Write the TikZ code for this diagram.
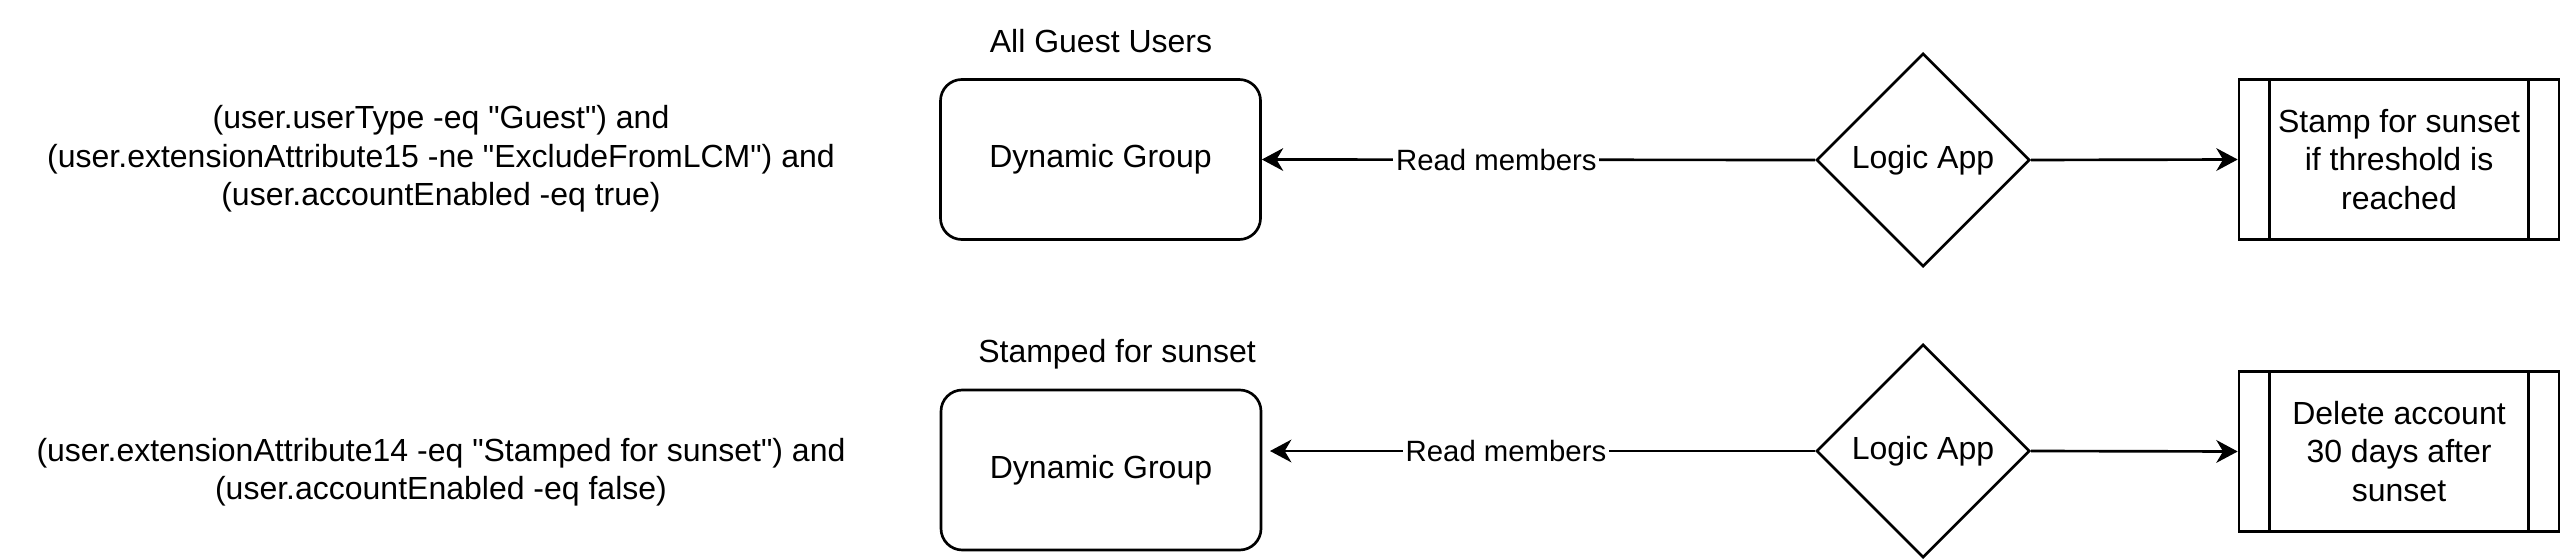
\documentclass[tikz,border=0pt]{standalone}
\usepackage{fontspec}
\setmainfont{Liberation Sans}[Ligatures=TeXOff]
\usetikzlibrary{arrows.meta,shapes.geometric}
\begin{document}
\begin{tikzpicture}[x=0.375pt,y=-0.375pt,
 every node/.style={font=\fontsize{12pt}{14.4pt}\selectfont, inner sep=0pt},
 grp/.style={draw, rounded corners=8pt, minimum width=120pt, minimum height=60pt, line width=1pt},
 logic/.style={draw, diamond, minimum width=80pt, minimum height=80pt, aspect=1, line width=1pt},
 proc/.style={draw, rectangle, minimum width=120pt, minimum height=60pt, line width=1pt, align=center},
 cond/.style={align=center},
 bar/.style={line width=1pt},
 conn/.style={line width=1pt, -{Stealth[length=8pt,width=8.5pt,inset=2.5pt]}},
 lbl/.style={fill=white, font=\fontsize{11pt}{13.2pt}\selectfont, inner sep=1pt}
]
\useasboundingbox (0,0) rectangle (2560,559);

% top row
\node[cond] (c1) at (441,159) {(user.userType -eq "Guest") and\\(user.extensionAttribute15 -ne "ExcludeFromLCM") and\\(user.accountEnabled -eq true)};
\node (t1) at (1101,41) {All Guest Users};
\node[grp] (dg1) at (1100.5,159.5) {Dynamic Group};
\node[logic] (la1) at (1923,160) {Logic App};
\node[proc] (sp1) at (2399,159.5) {Stamp for sunset\\if threshold is\\reached};
\draw[bar] ([xshift=12pt]sp1.north west) -- ([xshift=12pt]sp1.south west);
\draw[bar] ([xshift=-12pt]sp1.north east) -- ([xshift=-12pt]sp1.south east);
\draw[conn] (la1.west) -- node[lbl,pos=0.576]{Read members} (dg1.east);
\draw[conn] (la1.east) -- (sp1.west);

% bottom row
\node[cond] (c2) at (441,472) {(user.extensionAttribute14 -eq "Stamped for sunset") and\\(user.accountEnabled -eq false)};
\node (t2) at (1117,354) {Stamped for sunset};
\node[grp] (dg2) at (1101,470) {Dynamic Group};
\node[logic] (la2) at (1923,451) {Logic App};
\node[proc] (sp2) at (2399,451.5) {Delete account\\30 days after\\sunset};
\draw[bar] ([xshift=12pt]sp2.north west) -- ([xshift=12pt]sp2.south west);
\draw[bar] ([xshift=-12pt]sp2.north east) -- ([xshift=-12pt]sp2.south east);
\coordinate (e2) at (1270,451);
\draw[conn] (la2.west) -- node[lbl,pos=0.567]{Read members} (e2);
\draw[conn] (la2.east) -- (sp2.west);
\end{tikzpicture}
\end{document}
